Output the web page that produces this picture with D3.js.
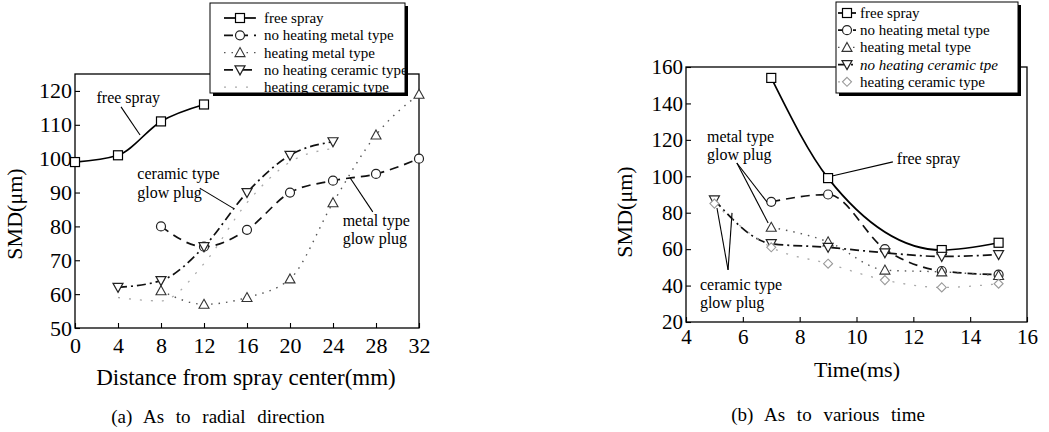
<!DOCTYPE html>
<html><head><meta charset="utf-8">
<script src="https://cdn.jsdelivr.net/npm/d3@7"></script>
<style>
html,body{margin:0;padding:0;background:#fff;}
svg{display:block;}
text{font-family:"Liberation Serif","DejaVu Serif","Times New Roman",serif;fill:#000;}
</style></head>
<body>
<svg id="c" width="1049" height="432"></svg>
<script>
// ---------- DATA (a) radial direction ----------
const seriesNames = ["free spray","no heating metal type","heating metal type","no heating ceramic type","heating ceramic type"];
const seriesNamesB = ["free spray","no heating metal type","heating metal type","no heating ceramic tpe","heating ceramic type"];

const aFreeX = [0,4,8,12];
const aFreeY = [99,101,111,116];
const aNoHeatMetalX = [8,12,16,20,24,28,32];
const aNoHeatMetalY = [80,74,79,90,93.5,95.5,100];
const aHeatMetalX = [8,12,16,20,24,28,32];
const aHeatMetalY = [61,57,59,64.5,87,107,119];
const aNoHeatCerX = [4,8,12,16,20,24];
const aNoHeatCerY = [62,64,74,90,101,105];
const aHeatCerX = [4,8,12,16,20,24];
const aHeatCerY = [59,58,69,87,99,103];
const aXTicks = [0,4,8,12,16,20,24,28,32];
const aYTicks = [50,60,70,80,90,100,110,120];

// ---------- DATA (b) various time ----------
const bFreeX = [7,9,13,15];
const bFreeY = [154,99,59.5,63.5];
const bNoHeatMetalX = [7,9,11,13,15];
const bNoHeatMetalY = [86,90,60,48,46];
const bHeatMetalX = [7,9,11,13,15];
const bHeatMetalY = [72,64,48.5,47.5,45.5];
const bNoHeatCerX = [5,7,9,11,13,15];
const bNoHeatCerY = [87,63,61,58,56,57];
const bHeatCerX = [5,7,9,11,13,15];
const bHeatCerY = [85,61,52,43,39,41];
const bXTicks = [4,6,8,10,12,14,16];
const bYTicks = [20,40,60,80,100,120,140,160];

const svg = d3.select("#c");

const styles = [
  {dash:null, stroke:"#000", w:1.7, marker:"square", mstroke:"#000"},
  {dash:"9,6", stroke:"#111", w:1.7, marker:"circle", mstroke:"#222"},
  {dash:"1.5,6", stroke:"#555", w:1.4, marker:"tri", mstroke:"#333"},
  {dash:"9,4,2,4", stroke:"#111", w:1.7, marker:"dtri", mstroke:"#222"},
  {dash:"2,9", stroke:"#aaa", w:1.3, marker:"diamond", mstroke:"#999"}
];

function drawMarker(g, type, x, y, stroke){
  const s = 4.5;
  if(type==="square"){
    g.append("rect").attr("x",x-s).attr("y",y-s).attr("width",2*s).attr("height",2*s)
      .attr("fill","#fff").attr("stroke",stroke).attr("stroke-width",1.2);
  } else if(type==="circle"){
    g.append("circle").attr("cx",x).attr("cy",y).attr("r",s).attr("fill","#fff").attr("stroke",stroke).attr("stroke-width",1.2);
  } else if(type==="tri"){
    g.append("path").attr("d",`M${x},${y-s-0.5}L${x+s+0.5},${y+s-0.5}L${x-s-0.5},${y+s-0.5}Z`)
      .attr("fill","#fff").attr("stroke",stroke).attr("stroke-width",1.1);
  } else if(type==="dtri"){
    g.append("path").attr("d",`M${x},${y+s+0.5}L${x+s+0.5},${y-s+0.5}L${x-s-0.5},${y-s+0.5}Z`)
      .attr("fill","#fff").attr("stroke",stroke).attr("stroke-width",1.2);
  } else if(type==="diamond"){
    g.append("path").attr("d",`M${x},${y-s}L${x+s},${y}L${x},${y+s}L${x-s},${y}Z`)
      .attr("fill","#fff").attr("stroke",stroke).attr("stroke-width",1.1);
  }
}

function panel(cfg){
  const g = svg.append("g");
  const x = d3.scaleLinear().domain(cfg.xd).range([cfg.l, cfg.r]);
  const y = d3.scaleLinear().domain(cfg.yd).range([cfg.b, cfg.t]);
  g.append("rect").attr("x",cfg.l).attr("y",cfg.t).attr("width",cfg.r-cfg.l).attr("height",cfg.b-cfg.t)
    .attr("fill","none").attr("stroke","#000").attr("stroke-width",1.3);
  const xa = g.append("g").attr("transform",`translate(0,${cfg.b})`)
    .call(d3.axisBottom(x).tickValues(cfg.xt).tickSize(-5).tickPadding(cfg.xpad).tickFormat(d3.format("d")));
  const ya = g.append("g").attr("transform",`translate(${cfg.l},0)`)
    .call(d3.axisLeft(y).tickValues(cfg.yt).tickSize(-5).tickPadding(3).tickFormat(d3.format("d")));
  [xa,ya].forEach(a=>{
    a.attr("font-family",null).attr("font-size",null);
    a.select(".domain").remove();
    a.selectAll("line").attr("stroke","#000").attr("stroke-width",1.1);
    a.selectAll("text").style("font-family","'Liberation Serif','DejaVu Serif',serif").style("font-size",cfg.tickFont+"px").attr("fill","#000");
  });
  xa.selectAll("text").attr("dy","0.72em");
  const line = d3.line().x(d=>x(d[0])).y(d=>y(d[1])).curve(d3.curveMonotoneX);
  cfg.series.forEach((s,i)=>{
    const st = styles[i];
    const pts = s.x.map((v,k)=>[v,s.y[k]]);
    g.append("path").datum(pts).attr("d",line).attr("fill","none")
      .attr("stroke",st.stroke).attr("stroke-width",st.w)
      .attr("stroke-dasharray",st.dash);
  });
  cfg.series.forEach((s,i)=>{
    const st = styles[i];
    if(s.noMarker) return;
    s.x.forEach((v,k)=>drawMarker(g, st.marker, x(v), y(s.y[k]), st.mstroke));
  });
  cfg.notes.forEach(n=>{
    n.lines.forEach((t,k)=>{
      g.append("text").attr("x",x(n.x)).attr("y",y(n.y[k])).style("font-size","16px").text(t);
    });
    n.leaders.forEach(L=>{
      g.append("line").attr("x1",x(L[0])).attr("y1",y(L[1])).attr("x2",x(L[2])).attr("y2",y(L[3]))
        .attr("stroke","#000").attr("stroke-width",1.1);
    });
  });
  g.append("text").attr("x",cfg.xlab[1]).attr("y",cfg.xlab[2]).attr("text-anchor","middle")
    .style("font-size",cfg.xlab[3]+"px").text(cfg.xlab[0]);
  g.append("text").attr("transform",`translate(${cfg.ylab[0]},${cfg.ylab[1]}) rotate(-90)`)
    .attr("text-anchor","middle").style("font-size","22px").text("SMD(μm)");
  g.append("text").attr("x",cfg.cap[1]).attr("y",cfg.cap[2]).attr("text-anchor","middle")
    .style("font-size","19px").style("word-spacing","7px").text(cfg.cap[0]);
  const L = cfg.leg;
  const lg = g.append("g");
  lg.append("rect").attr("x",L.x+3).attr("y",L.y+3).attr("width",L.w).attr("height",L.h).attr("fill","#000");
  lg.append("rect").attr("x",L.x).attr("y",L.y).attr("width",L.w).attr("height",L.h)
    .attr("fill","#fff").attr("stroke","#000").attr("stroke-width",1);
  cfg.names.forEach((nm,i)=>{
    const st = styles[i];
    const yy = L.y + L.r0 + i*L.dy;
    lg.append("line").attr("x1",L.sx0).attr("x2",L.sx1).attr("y1",yy).attr("y2",yy)
      .attr("stroke",st.stroke).attr("stroke-width",st.w).attr("stroke-dasharray",st.dash);
    if(!(cfg.legNoMarker && cfg.legNoMarker[i])) drawMarker(lg, st.marker, (L.sx0+L.sx1)/2, yy, st.mstroke);
    lg.append("text").attr("x",L.tx).attr("y",yy+5).style("font-size","15px")
      .style("font-style", (cfg.italic && cfg.italic[i])?"italic":"normal").text(nm);
  });
}

panel({
  xd:[0,32], yd:[50,125], l:75, r:419, t:74, b:328,
  xt:aXTicks, yt:aYTicks, tickFont:22, xpad:9,
  series:[
    {x:aFreeX,y:aFreeY},
    {x:aNoHeatMetalX,y:aNoHeatMetalY},
    {x:aHeatMetalX,y:aHeatMetalY},
    {x:aNoHeatCerX,y:aNoHeatCerY},
    {x:aHeatCerX,y:aHeatCerY,noMarker:true}
  ],
  legNoMarker:[false,false,false,false,true],
  notes:[
    {lines:["free spray"], x:2.0, y:[116.4], leaders:[[4.28,115.3,6.05,107]]},
    {lines:["ceramic type","glow plug"], x:5.8, y:[94,88.4], leaders:[[11.6,91.3,14.7,85.4]]},
    {lines:["metal type","glow plug"], x:24.9, y:[80.1,74.8], leaders:[[25.6,94.3,27.7,84.3]]}
  ],
  xlab:["Distance from spray center(mm)",246,385,23],
  ylab:[22,214],
  cap:["(a) As to radial direction",218,423],
  names:seriesNames,
  leg:{x:210,y:3,w:195,h:90,r0:15,dy:17.3,sx0:224,sx1:256,tx:264}
});

panel({
  xd:[4,16], yd:[20,160], l:686, r:1027, t:67, b:322,
  xt:bXTicks, yt:bYTicks, tickFont:21, xpad:7,
  series:[
    {x:bFreeX,y:bFreeY},
    {x:bNoHeatMetalX,y:bNoHeatMetalY},
    {x:bHeatMetalX,y:bHeatMetalY},
    {x:bNoHeatCerX,y:bNoHeatCerY},
    {x:bHeatCerX,y:bHeatCerY}
  ],
  notes:[
    {lines:["metal type","glow plug"], x:4.74, y:[118.8,109], leaders:[[5.79,107.3,6.85,85.9],[5.79,107.3,6.89,74.4]]},
    {lines:["free spray"], x:11.42, y:[106.8], leaders:[[11.28,107.9,9.14,100.2]]},
    {lines:["ceramic type","glow plug"], x:4.49, y:[37.6,27.7], leaders:[[5.48,48.6,5.09,82.6],[5.48,48.6,5.62,79.9]]}
  ],
  xlab:["Time(ms)",857,377,22],
  ylab:[632,212],
  cap:["(b) As to various time",828,421],
  names:seriesNamesB,
  italic:[false,false,false,true,false],
  leg:{x:836,y:2,w:182,h:91,r0:11,dy:17.2,sx0:838,sx1:856,tx:860}
});
</script>
</body></html>
